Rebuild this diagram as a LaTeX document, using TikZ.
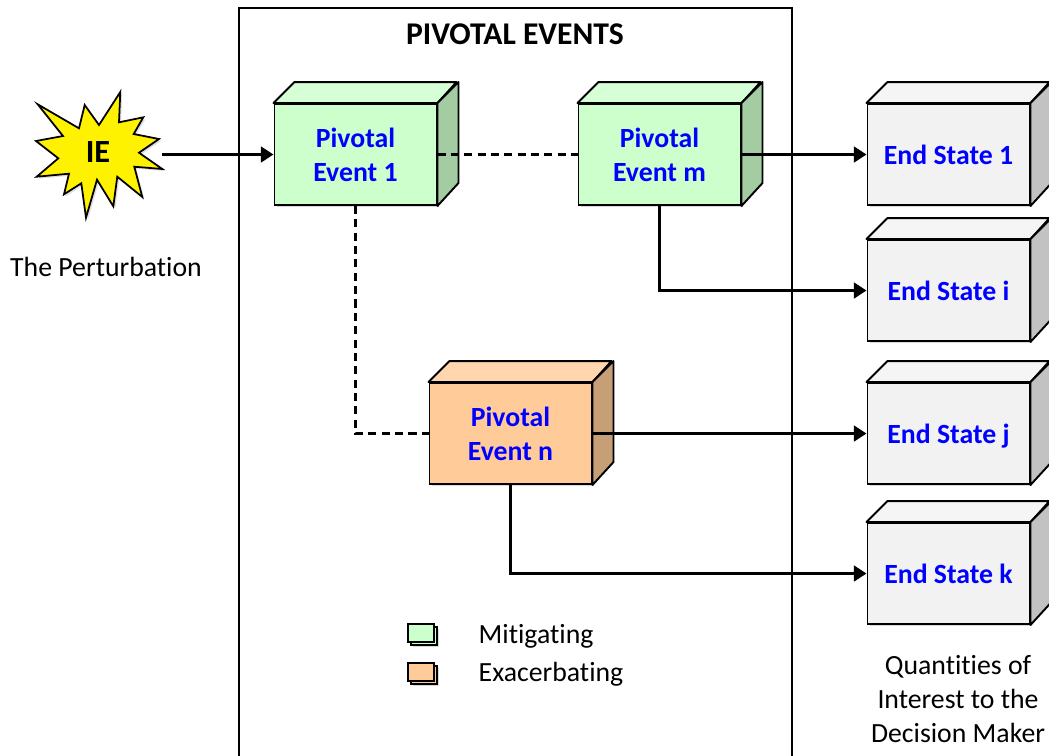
\documentclass[tikz,border=0pt]{standalone}
\usepackage{fontspec}
\setmainfont[Ligatures=NoCommon]{Carlito}
\usetikzlibrary{positioning}
\usetikzlibrary{shadows}
\usetikzlibrary{arrows.meta}
\definecolor{greenfront}{HTML}{CCFFCC}
\definecolor{greentop}{HTML}{D6FFD6}
\definecolor{greenside}{HTML}{A3CCA3}
\definecolor{orangefront}{HTML}{FFCC99}
\definecolor{orangetop}{HTML}{FFD6AD}
\definecolor{orangeside}{HTML}{C79F77}
\definecolor{grayfront}{HTML}{F2F2F2}
\definecolor{graytop}{HTML}{F5F5F5}
\definecolor{grayside}{HTML}{C2C2C2}
\tikzset{
    cube/.style = {rectangle, draw=black, line width=0.55pt, minimum width=1.62cm, minimum height=1.01cm, inner sep=0pt, align=center,
        text=blue, font=\fontsize{7.9}{9.6}\selectfont\bfseries,
        drop shadow={shadow xshift=0.02cm,shadow yshift=-0.02cm,opacity=0.3}},
    mynodeg/.style = {cube,fill=greenfront},
    mynodeo/.style = {cube,fill=orangefront},
    mynodee/.style = {cube,fill=grayfront,text height=7.3pt,text depth=1.7pt},
    face/.style = {draw=black, line width=0.55pt, line join=round},
    plain/.style = {align=center, inner sep=0pt, font=\fontsize{7.9}{9.67}\selectfont},
    swatch/.style = {rectangle, draw=black, line width=0.6pt, minimum width=0.26cm, minimum height=0.18cm, inner sep=0pt},
    edgen/.style = {-{Triangle[length=3.6pt,width=4.4pt]},line width=0.9pt},
    edged/.style = {line width=0.9pt,dash pattern=on 2.3pt off 1.5pt}, % dashed links
}
\begin{document}
\begin{tikzpicture}
\clip (0,0) rectangle (10.49,7.55);
%
\node[rectangle,draw=black,line width=0.45pt,minimum width=5.53cm,minimum height=7.6cm,inner sep=0pt] at (5.155,3.67) (frame) {};
\node[plain,font=\fontsize{9}{9.6}\selectfont\bfseries] at (5.15,7.21) (title) {PIVOTAL EVENTS};
%
\draw[line width=0.5pt,fill=yellow,line join=miter,drop shadow={shadow xshift=0.02cm,shadow yshift=-0.02cm,opacity=0.25}]
    (0.377,6.507) -- (0.79,6.267) -- (0.847,6.5) -- (0.99,6.3) -- (1.203,6.63) -- (1.19,6.327)
    -- (1.433,6.377) -- (1.337,6.21) -- (1.59,6.16) -- (1.39,6.023) -- (1.623,5.86) -- (1.343,5.883)
    -- (1.423,5.58) -- (1.173,5.783) -- (1.133,5.487) -- (0.97,5.753) -- (0.86,5.373) -- (0.813,5.717)
    -- (0.64,5.607) -- (0.69,5.813) -- (0.367,5.783) -- (0.583,5.967) -- (0.36,6.14) -- (0.63,6.19) -- cycle;
\node[plain,font=\fontsize{9.2}{9.6}\selectfont\bfseries] at (0.98,6.03) (ie) {IE};
\node[plain] at (1.06,4.88) (perturbation) {The Perturbation};
%
\node[mynodeg] at (3.555,6.005) (pe1) {Pivotal\\Event 1};
\node[mynodeg] at (6.595,6.005) (pem) {Pivotal\\Event m};
\node[mynodeo] at (5.105,3.215) (pen) {Pivotal\\Event n};
\node[mynodee] at (9.485,6.005) (es1) {End State 1};
\node[mynodee] at (9.485,4.645) (esi) {End State i};
\node[mynodee] at (9.485,3.215) (esj) {End State j};
\node[mynodee] at (9.485,1.815) (esk) {End State k};
\coordinate (ieout) at (1.62,6.005);
%
\foreach \n/\c in {pe1/green,pem/green,pen/orange,es1/gray,esi/gray,esj/gray,esk/gray}{
    \draw[face,fill=\c top] (\n.north west) -- ++(0.21,0.21) -- ++(1.62,0) -- (\n.north east) -- cycle;
    \draw[face,fill=\c side] (\n.north east) -- ++(0.21,0.21) -- ++(0,-1.01) -- (\n.south east) -- cycle;
}
%
\draw[edgen] (ieout) -- (pe1.west);
\draw[edged] (pe1.east) -- (pem.west);
\draw[edged] (pe1.south) |- (pen.west);
\draw[edgen] (pem.east) -- (es1.west);
\draw[edgen] (pem.south) |- (esi.west);
\draw[edgen] (pen.east) -- (esj.west);
\draw[edgen] (pen.south) |- (esk.west);
%
\node[swatch,fill=greenfront,xshift=0.03cm,yshift=-0.03cm,drop shadow={shadow xshift=0.02cm,shadow yshift=-0.02cm,opacity=0.3}] at (4.21,1.22) (back1) {};
\node[swatch,fill=greenfront] at (4.21,1.22) (sw1) {};
\node[swatch,fill=orangefront,xshift=0.03cm,yshift=-0.03cm,drop shadow={shadow xshift=0.02cm,shadow yshift=-0.02cm,opacity=0.3}] at (4.21,0.83) (back2) {};
\node[swatch,fill=orangefront] at (4.21,0.83) (sw2) {};
\node[plain,anchor=west] at (4.78,1.19) (mit) {Mitigating};
\node[plain,anchor=west] at (4.78,0.81) (exa) {Exacerbating};
%
\node[plain] at (9.58,0.56) (quant) {Quantities of\\Interest to the\\Decision Maker};
\end{tikzpicture}
\end{document}
